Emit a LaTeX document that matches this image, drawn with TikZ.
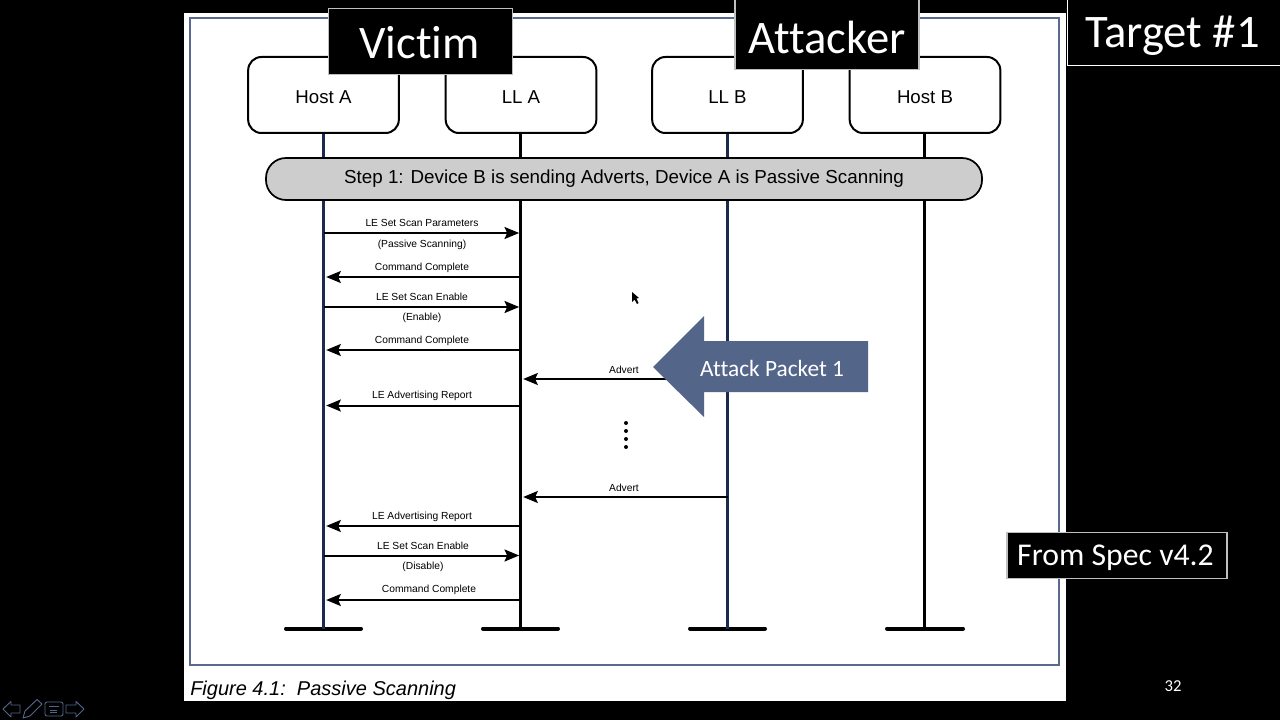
\documentclass[tikz,border=0pt]{standalone}
\usepackage{fontspec}
\setmainfont{Liberation Sans}
\newfontfamily\calib[Ligatures=NoCommon]{Carlito}
\usetikzlibrary{arrows.meta,shapes.arrows}
\definecolor{slate}{HTML}{54658A}
\definecolor{navy}{HTML}{1B2A50}
\definecolor{framec}{HTML}{5A6A8E}
\definecolor{pillc}{HTML}{CDCDCD}
\tikzset{
  actor/.style={draw=black,line width=1.5pt,fill=white,rounded corners=10pt,minimum width=113pt,minimum height=57pt,inner sep=0pt,text=black},
  actorlab/.style={inner sep=0pt,text=black,font=\fontsize{14}{16}\selectfont},
  life/.style={draw=navy,line width=1.6pt},
  foot/.style={draw=black,line width=3pt,line cap=round},
  msg/.style={draw=black,line width=1.5pt,-{Stealth[length=11pt,width=9pt,inset=2pt]}},
  lab/.style={font=\fontsize{7.7}{9}\selectfont,text=black,inner sep=0pt},
  banner/.style={fill=black,draw=#1,line width=.8pt,inner sep=0pt},
  bannertext/.style={text=white,inner sep=0pt,font=\calib\fontsize{35}{40}\selectfont},
  navicon/.style={draw=slate,line width=.7pt,fill=black,line join=round}
}
\begin{document}
\begin{tikzpicture}[x=0.75pt,y=-0.75pt]
\useasboundingbox (0,0) rectangle (1280,720);
\fill[black] (0,0) rectangle (1280,720);
% slide page
\fill[white] (184,13) rectangle (1066,701);
\draw[framec,line width=1pt] (190,18) rectangle (1059,665);
\node[anchor=west,inner sep=0pt,text=black,font=\itshape\fontsize{15}{18}\selectfont] (caption) at (190,690) {Figure 4.1:\ \ Passive Scanning};
% actors
\node[actor] (hostA) at (323.5,95) {};
\node[actor] (llA) at (521,95) {};
\node[actor] (llB) at (727.5,95) {};
\node[actor] (hostB) at (925,95) {};
\node[actorlab] at (323.5,97) {Host A};
\node[actorlab] at (521,97) {LL A};
\node[actorlab] at (727.5,97) {LL B};
\node[actorlab] at (925,97) {Host B};
% feet
\coordinate (fa) at (323.5,628.5);
\coordinate (fb) at (520.5,628.5);
\coordinate (fc) at (727.5,628.5);
\coordinate (fd) at (924.5,628.5);
\draw[foot] (286,628.5) -- (361,628.5);
\draw[foot] (483,628.5) -- (558,628.5);
\draw[foot] (690,628.5) -- (765,628.5);
\draw[foot] (887,628.5) -- (963,628.5);
% lifelines
\draw[life] (hostA.south -| fa) -- (fa);
\draw[life,draw=black] (llA.south -| fb) -- (fb);
\draw[life] (llB.south -| fc) -- (fc);
\draw[life,draw=black] (hostB.south -| fd) -- (fd);
% step
\node[draw=black,line width=1.3pt,fill=pillc,rounded corners=15pt,minimum width=537pt,minimum height=31.5pt,inner sep=0pt] (stepbar) at (624,179) {};
\node[inner sep=0pt,text=black,font=\fontsize{14.1}{16}\selectfont] at (624,178.5) {Step 1: Device B is sending Adverts, Device A is Passive Scanning};
% messages
\draw[msg] (fa |- 0,233) -- ([xshift=-1pt]fb |- 0,233);
\draw[msg] (fb |- 0,277) -- ([xshift=2pt]fa |- 0,277);
\draw[msg] (fa |- 0,307) -- ([xshift=-1pt]fb |- 0,307);
\draw[msg] (fb |- 0,350) -- ([xshift=2pt]fa |- 0,350);
\draw[msg] (fc |- 0,379) -- ([xshift=2pt]fb |- 0,379);
\draw[msg] (fb |- 0,405.5) -- ([xshift=2pt]fa |- 0,405.5);
\draw[msg] (fc |- 0,497) -- ([xshift=2pt]fb |- 0,497);
\draw[msg] (fb |- 0,526) -- ([xshift=2pt]fa |- 0,526);
\draw[msg] (fa |- 0,555.5) -- ([xshift=-1pt]fb |- 0,555.5);
\draw[msg] (fb |- 0,600) -- ([xshift=2pt]fa |- 0,600);
% labels
\node[lab] (l1) at (422,223) {LE Set Scan Parameters};
\node[lab] (l2) at (422,245) {(Passive Scanning)};
\node[lab] (l3) at (422,267.5) {Command Complete};
\node[lab] (l4) at (422,297) {LE Set Scan Enable};
\node[lab] (l5) at (422,318) {(Enable)};
\node[lab] (l6) at (422,341) {Command Complete};
\node[lab] (l7) at (624,369.5) {Advert};
\node[lab] (l8) at (422,396) {LE Advertising Report};
\node[lab] (l9) at (624,488) {Advert};
\node[lab] (l10) at (422,517) {LE Advertising Report};
\node[lab] (l11) at (423,546) {LE Set Scan Enable};
\node[lab] (l12) at (423,567) {(Disable)};
\node[lab] (l13) at (429,590) {Command Complete};
% dots
\foreach \yy in {423,431,439,447} \fill[black] (626,\yy) circle (2);
% cursor
\fill[black] (632,292) -- (632,302) -- (634.5,299.5) -- (637,304) -- (638.5,303) -- (636.5,298.5) -- (639,298) -- cycle;
% blue callout
\fill[slate] (653,367) -- (704,316) -- (704,341) -- (868,341) -- (868,392) -- (704,392) -- (704,417) -- cycle;
\node[text=white,inner sep=0pt,font=\calib\fontsize{17.5}{20}\selectfont] (attackpkt) at (772,368) {Attack Packet 1};
% banners
\node[banner=black!25!white,minimum width=138.5pt,minimum height=50pt] (victim) at (420.5,41.5) {};
\node[bannertext] at (419.5,43) {Victim};
\node[banner=black!25!white,minimum width=138pt,minimum height=52pt] (attacker) at (827,34.5) {};
\node[bannertext] at (827,37) {Attacker};
\fill[black] (1067,0) rectangle (1280,65);
\draw[white,line width=.7pt] (1067,0) -- (1067,65) -- (1280,65);
\node[bannertext] (target) at (1172.5,36) {Target \#1};
\node[banner=black!25!white,minimum width=165pt,minimum height=35pt] (spec) at (1117,555.5) {};
\node[bannertext,font=\calib\fontsize{23.8}{28}\selectfont] at (1115.5,558) {From Spec v4.2};
\node[text=white,inner sep=0pt,font=\calib\fontsize{12.5}{14}\selectfont] (pageno) at (1173,686) {32};
% nav icons
\draw[navicon] (3,709) -- (11,701.5) -- (11,705) -- (20,705) -- (20,713) -- (11,713) -- (11,717) -- cycle;
\draw[navicon] (23,718) -- (25,711) -- (37,699.5) -- (42,704) -- (30,716) -- cycle;
\draw[navicon,rounded corners=1.5pt] (45,702) rectangle (63,716);
\draw[slate,line width=.6pt] (49,706) -- (59,706) (50,710) -- (57,710) (50,712.5) -- (57,712.5);
\draw[navicon] (84,709) -- (76,701.5) -- (76,705) -- (66,705) -- (66,713) -- (76,713) -- (76,717) -- cycle;
\end{tikzpicture}
\end{document}
